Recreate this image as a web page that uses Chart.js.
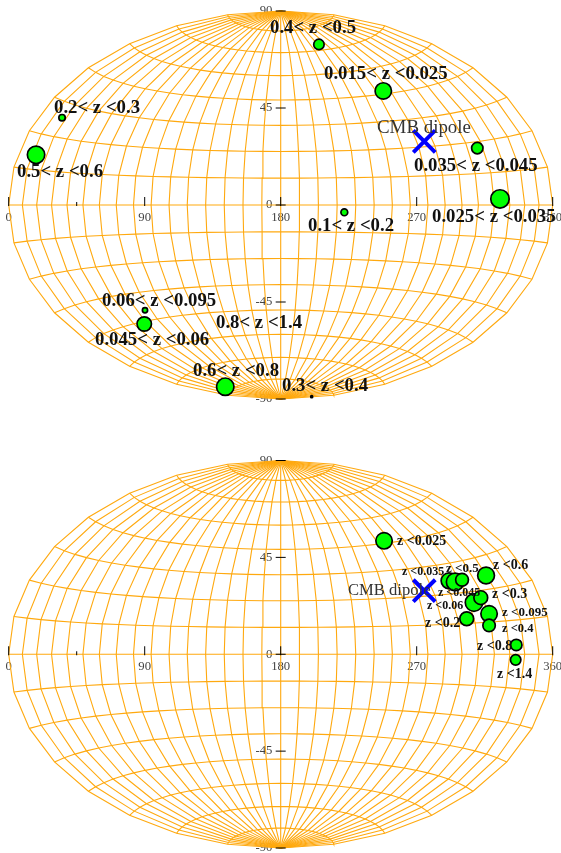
<!DOCTYPE html>
<html>
<head>
<meta charset="utf-8">
<script src="https://cdn.jsdelivr.net/npm/chart.js@4"></script>
<style>
  html, body { margin: 0; padding: 0; background: #fff; }
  canvas { position: absolute; left: 0; }
</style>
</head>
<body>
<canvas id="top-map" width="561" height="426" style="top:0"></canvas>
<canvas id="bottom-map" width="561" height="427" style="top:426px"></canvas>
<script>
const dipoleLon = [275];
const dipoleLat = [29.5];

const topLabels = ["0.4< z <0.5", "0.015< z <0.025", "0.035< z <0.045", "0.025< z <0.035", "0.1< z <0.2", "0.2< z <0.3", "0.5< z <0.6", "0.06< z <0.095", "0.045< z <0.06", "0.6< z <0.8", "0.3< z <0.4", "0.8< z <1.4"];
const topLon = [205.3, 247.9, 310.1, 325.1, 222.1, 35.3, 18.1, 90.2, 89.7, 143.3, 200.5, null];
const topLat = [74.5, 52.9, 26.4, 2.8, -3.4, 40.5, 23.3, -48.8, -55.2, -84.3, -88.9, null];
const topSize = [5.2, 8.2, 5.7, 9.2, 3.4, 3.2, 8.7, 2.6, 7.2, 8.7, 1, 0];

const bottomLabels = ["z <0.025", "z <0.035", "z <0.045", "z <0.5", "z <0.6", "z <0.06", "z <0.3", "z <0.095", "z <0.2", "z <0.4", "z <0.8", "z <1.4"];
const bottomLon = [248.4, 291.4, 295.4, 300, 315.9, 307.9, 312.4, 317.9, 303.1, 317.9, 335.9, 335.5];
const bottomLat = [52.7, 34.1, 33.6, 34.6, 36.6, 24, 26.3, 18.8, 16.5, 13.4, 4.3, -2.6];
const bottomSize = [8.2, 7.9, 8.7, 6.4, 8.4, 8.7, 6.9, 8.2, 6.9, 6.2, 5.7, 5.2];

const lonTicks = [0, 45, 90, 180, 270, 360];
const latTicks = [-90, -45, 0, 45, 90];

// text placement: page pixels, left edge and baseline
const topSpots = [[270, 33], [324, 79], [414, 171], [432, 222], [308, 231], [54, 113], [17, 177], [102, 306], [95, 345], [193, 376], [282, 391], [216, 328]];
const bottomSpots = [[397, 545], [402, 575], [438, 596], [446, 572], [493, 569], [427, 609], [492, 598], [502, 616], [425, 627], [502, 632], [477, 650], [497, 678]];
const bottomSizes = [14, 12, 12, 13, 14, 12, 14, 13, 14, 12.5, 14, 14];

const GRID_STEP = 11.25;
const GRID_COLOR = "#ffa90f";

// Hammer projection, output rescaled to the 0-360 / -90-90 axes
function hammer(lon, lat) {
  const l = (lon - 180) * Math.PI / 360;
  const p = lat * Math.PI / 180;
  const d = Math.sqrt(1 + Math.cos(p) * Math.cos(l));
  return { x: 180 + 180 * Math.cos(p) * Math.sin(l) / d, y: 90 * Math.sin(p) / d };
}

function graticule() {
  const lines = [];
  for (let lon = 0; lon <= 360; lon += GRID_STEP) {
    const data = [];
    for (let lat = -90; lat <= 90; lat += GRID_STEP) data.push(hammer(lon, lat));
    lines.push(data);
  }
  for (let lat = -90 + GRID_STEP; lat < 90; lat += GRID_STEP) {
    const data = [];
    for (let lon = 0; lon <= 360; lon += GRID_STEP) data.push(hammer(lon, lat));
    lines.push(data);
  }
  return lines.map((data) => ({
    type: "line",
    data,
    borderColor: GRID_COLOR,
    borderWidth: 1.1,
    pointRadius: 0,
    tension: 0,
    clip: false,
    order: 5,
  }));
}

const axisMarks = {
  id: "axisMarks",
  afterDatasetsDraw(chart) {
    const { ctx, scales } = chart;
    const x0 = scales.y.getPixelForValue(0);
    const y0 = scales.x.getPixelForValue(180);
    ctx.save();
    ctx.strokeStyle = "#000";
    ctx.lineWidth = 1;
    ctx.beginPath();
    for (const lon of lonTicks) {
      const px = scales.x.getPixelForValue(lon);
      ctx.moveTo(px, x0 + 1);
      ctx.lineTo(px, x0 - (lon === 45 ? 3 : 8));
    }
    for (const lat of latTicks) {
      const py = scales.y.getPixelForValue(lat);
      ctx.moveTo(y0 - 5, py);
      ctx.lineTo(y0 + 5, py);
    }
    ctx.stroke();
    ctx.restore();
  },
};

const textMarks = {
  id: "textMarks",
  afterDraw(chart, args, opts) {
    const { ctx } = chart;
    ctx.save();
    ctx.textAlign = "left";
    ctx.textBaseline = "alphabetic";
    opts.items.forEach((item) => {
      ctx.font = item.font;
      ctx.fillStyle = item.color;
      ctx.fillText(item.text, item.x, item.y - opts.pageTop);
    });
    ctx.restore();
  },
};

// the tick labels must not push the plot area in
function noScalePadding(scale) {
  scale.paddingTop = 0;
  scale.paddingBottom = 0;
  scale.paddingLeft = 0;
  scale.paddingRight = 0;
}

function drawMap(canvasId, lons, lats, sizes, items, pageTop, padding) {
  const points = lons.map((lon, i) => ({ x: lon, y: lats[i] }));
  new Chart(document.getElementById(canvasId), {
    type: "scatter",
    data: {
      datasets: [
        {
          data: dipoleLon.map((lon, i) => ({ x: lon, y: dipoleLat[i] })),
          pointStyle: "crossRot",
          pointRadius: 15.5,
          pointBorderColor: "#0000ff",
          pointBorderWidth: 4,
          clip: false,
          order: 2,
        },
        {
          data: points,
          pointRadius: sizes,
          pointBackgroundColor: "#00ff00",
          pointBorderColor: "#000",
          pointBorderWidth: 1.7,
          clip: false,
          order: 1,
        },
        ...graticule(),
      ],
    },
    options: {
      responsive: false,
      animation: false,
      events: [],
      layout: { padding, autoPadding: false },
      plugins: {
        legend: { display: false },
        tooltip: { enabled: false },
        textMarks: { items, pageTop },
      },
      scales: {
        x: {
          type: "linear",
          min: 0,
          max: 360,
          position: { y: 0 },
          afterBuildTicks: (scale) => { scale.ticks = lonTicks.map((value) => ({ value })); },
          afterFit: noScalePadding,
          grid: { display: false, drawTicks: false },
          border: { display: false },
          ticks: {
            autoSkip: false,
            maxRotation: 0,
            padding: 5,
            color: "#444",
            font: { family: "'Liberation Serif'", size: 12.7 },
            callback: (value) => (value === 45 ? "" : String(value)),
          },
        },
        y: {
          type: "linear",
          min: -90,
          max: 90,
          // labels end at the axis position, so it sits just left of the centre line
          position: { x: 174.5 },
          afterBuildTicks: (scale) => { scale.ticks = latTicks.map((value) => ({ value })); },
          afterFit: noScalePadding,
          grid: { display: false, drawTicks: false },
          border: { display: false },
          ticks: {
            autoSkip: false,
            padding: 0,
            color: "#444",
            font: { family: "'Liberation Serif'", size: 12.7 },
            callback: (value) => String(value),
          },
        },
      },
    },
    plugins: [axisMarks, textMarks],
  });
}

const topItems = topLabels.map((text, i) => ({
  text,
  x: topSpots[i][0],
  y: topSpots[i][1],
  font: "bold 18.8px 'Liberation Serif'",
  color: "#111",
}));
topItems.push({ text: "CMB dipole", x: 377, y: 133, font: "18.9px 'Liberation Serif'", color: "#333" });

const bottomItems = bottomLabels.map((text, i) => ({
  text,
  x: bottomSpots[i][0],
  y: bottomSpots[i][1],
  font: `bold ${bottomSizes[i]}px 'Liberation Serif'`,
  color: "#111",
}));
bottomItems.push({ text: "CMB dipole", x: 348, y: 595, font: "16.6px 'Liberation Serif'", color: "#333" });

drawMap("top-map", topLon, topLat, topSize, topItems, 0, { left: 8.7, right: 8.3, top: 11, bottom: 27 });
drawMap("bottom-map", bottomLon, bottomLat, bottomSize, bottomItems, 426, { left: 8.7, right: 8.3, top: 34.5, bottom: 5 });
</script>
</body>
</html>
